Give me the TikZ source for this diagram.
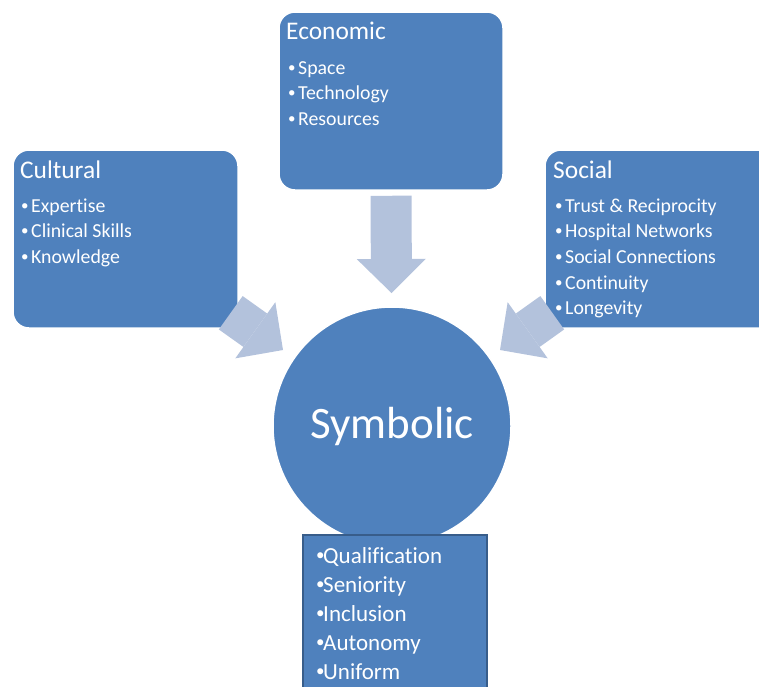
\documentclass[tikz,border=0pt]{standalone}
\usepackage{fontspec}
\setmainfont{Carlito}[Ligatures=NoCommon]
\usepackage{xcolor}
\usetikzlibrary{arrows.meta}
\definecolor{capblue}{HTML}{4F81BD}
\definecolor{flowblue}{HTML}{B3C2DC}
\definecolor{rimblue}{HTML}{385D8A}
\newcommand\capdot[2]{\makebox[#2][l]{\raisebox{0.1em}{\fontsize{#1}{#1}\selectfont\textbullet}}}

\tikzset{
  capbox/.style={draw=white, line width=1.5pt, fill=capblue, rounded corners=16pt, minimum width=#1, minimum height=178pt, inner sep=0pt},
  captitle/.style={anchor=base west, inner sep=0pt, text=white, font=\fontsize{25.4}{30}\selectfont},
  capitem/.style={anchor=base west, inner sep=0pt, text=white, font=\fontsize{19.8}{24}\selectfont},
  flow/.style={draw=flowblue, line width=41pt, -{Triangle[length=34pt, width=69pt, line width=0pt]}},
}

\begin{document}
\begin{tikzpicture}[x=1pt, y=-1pt]
\useasboundingbox (0,0) rectangle (759,686);
\clip (0,0) rectangle (759,686);
% three capital boxes
\node[capbox=224pt] (econ) at (391,101) {};
\node[capbox=225pt] (cult) at (125.5,239) {};
\node[capbox=232pt] (soc) at (661,239) {};
% tips of the block arrows
\coordinate (econ-tip) at (391.5,293);
\coordinate (cult-tip) at (283,350);
\coordinate (soc-tip) at (500,350);
\draw[flow] ([yshift=-5pt]econ.south) -- (econ-tip);
\draw[flow] ([shift={(-8pt,16pt)}]cult.south east) -- (cult-tip);
\draw[flow] ([shift={(8pt,16pt)}]soc.south west) -- (soc-tip);
% symbolic capital
\node[circle, draw=white, line width=1.5pt, fill=capblue, minimum size=238pt, text=white, font=\fontsize{45}{50}\selectfont] (sym) at (392,426) {Symbolic};
\node[draw=rimblue, line width=2pt, fill=capblue, minimum width=184pt, minimum height=170pt, inner sep=0pt] (symlist) at (395,620) {};
% texts
\node[captitle] (econ-title) at (286,39) {Economic};
\node[captitle] (cult-title) at (20,178) {Cultural};
\node[captitle] (soc-title) at (553,178) {Social};
\foreach \txt [count=\i] in {Space,Technology,Resources}
  \node[capitem] (econ-\i) at (288,{74+25.5*(\i-1)}) {\capdot{15}{10pt}\txt};
\foreach \txt [count=\i] in {Expertise,Clinical Skills,Knowledge}
  \node[capitem] (cult-\i) at (21,{212+25.5*(\i-1)}) {\capdot{15}{10pt}\txt};
\foreach \txt [count=\i] in {Trust \& Reciprocity,Hospital Networks,Social Connections,Continuity,Longevity}
  \node[capitem] (soc-\i) at (555,{212+25.7*(\i-1)}) {\capdot{15}{10pt}\txt};
\foreach \txt [count=\i] in {Qualification,Seniority,Inclusion,Autonomy,Uniform}
  \node[capitem, font=\fontsize{23}{28}\selectfont] (sym-\i) at (316,{563+29*(\i-1)}) {\capdot{17}{7pt}\txt};
\end{tikzpicture}
\end{document}
